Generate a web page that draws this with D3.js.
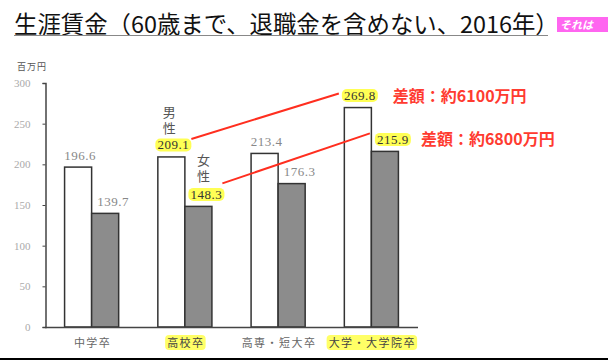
<!DOCTYPE html>
<html><head><meta charset="utf-8">
<script src="https://cdn.jsdelivr.net/npm/d3@7"></script>
<style>
body{margin:0;background:#fff;}
svg{display:block;}
</style></head>
<body>
<svg id="c" width="608" height="361"></svg>
<script>
const title = "生涯賃金（60歳まで、退職金を含めない、2016年）";
const unitLabel = "百万円";
const categories = ["中学卒","高校卒","高専・短大卒","大学・大学院卒"];
const highlighted = [false, true, false, true];
const male = [196.6, 209.1, 213.4, 269.8];
const female = [139.7, 148.3, 176.3, 215.9];
const seriesNames = ["男性","女性"];
const yTicks = [0,50,100,150,200,250,300];
const annotations = ["差額：約6100万円","差額：約6800万円"];

const svg = d3.select("#c");
const CJK = "'Noto Sans CJK JP','Noto Sans CJK SC',sans-serif";
const NUM = "'Liberation Serif',serif";

// title
svg.append("text").attr("x",14).attr("y",33).attr("font-family",CJK)
  .attr("font-size",23.4).attr("fill","#111").text(title);
svg.append("line").attr("x1",14).attr("x2",548).attr("y1",35.5).attr("y2",35.5)
  .attr("stroke","#888").attr("stroke-width",1);
// logo fragment
svg.append("rect").attr("x",557).attr("y",17).attr("width",51).attr("height",15).attr("fill","#ff66f0");
svg.append("text").attr("x",560).attr("y",29).attr("font-family",CJK).attr("font-size",11)
  .attr("font-weight","bold").attr("font-style","italic").attr("fill","#fff").text("それは");

// scales
const x = d3.scaleBand().domain(categories).range([45,418]).paddingInner(0.42).paddingOuter(0.21);
const y = d3.scaleLinear().domain([0,300]).range([327,83]);
const bw = x.bandwidth()/2;

// unit label
svg.append("text").attr("x",17).attr("y",70).attr("font-family",CJK).attr("font-size",9)
  .attr("fill","#555").attr("letter-spacing",1).text(unitLabel);

// y axis
const yAxis = svg.append("g").attr("transform","translate(45.5,0)")
  .call(d3.axisLeft(y).tickValues(yTicks).tickSize(3).tickPadding(12));
yAxis.select(".domain").attr("stroke","#444").attr("stroke-width",1.5);
yAxis.selectAll(".tick line").attr("stroke","#444");
yAxis.selectAll(".tick text").attr("font-family",NUM).attr("font-size",11).attr("fill","#aaa");

// bars
const g = svg.append("g");
categories.forEach((c,i)=>{
  g.append("rect").attr("x",x(c)).attr("y",y(male[i])).attr("width",bw).attr("height",y(0)-y(male[i]))
    .attr("fill","#fff").attr("stroke","#333").attr("stroke-width",1.5);
  g.append("rect").attr("x",x(c)+bw).attr("y",y(female[i])).attr("width",bw).attr("height",y(0)-y(female[i]))
    .attr("fill","#8c8c8c").attr("stroke","#333").attr("stroke-width",1.5);
});

// x axis
const xAxis = svg.append("g").attr("transform","translate(0,327.5)")
  .call(d3.axisBottom(x).tickSize(0).tickPadding(0).tickFormat(()=>""));
xAxis.select(".domain").attr("d","M45,0H418").attr("stroke","#444").attr("stroke-width",1.5);

// category labels
categories.forEach((c,i)=>{
  const cx = x(c)+x.bandwidth()/2;
  const t = svg.append("text").attr("x",cx+1).attr("y",347).attr("text-anchor","middle")
    .attr("font-family",CJK).attr("font-size",11).attr("letter-spacing",1.5)
    .attr("fill", highlighted[i] ? "#444" : "#666").text(c);
  if(highlighted[i]){
    const bb = t.node().getBBox();
    svg.append("rect").attr("x",bb.x-2).attr("y",bb.y+1).attr("width",bb.width+3)
      .attr("height",bb.height-1).attr("rx",4).attr("fill","#ffff66");
    t.raise();
  }
});

// value labels
function valueLabel(v, cx, hl){
  const cy = y(v) - 12;
  const t = svg.append("text").attr("x",cx).attr("y",cy+4.5).attr("text-anchor","middle")
    .attr("font-family",NUM).attr("font-size",13).attr("letter-spacing",0.5)
    .attr("fill", hl ? "#333" : "#888").text(v.toFixed(1));
  if(hl){
    svg.append("rect").attr("x",cx-18).attr("y",cy-6.5).attr("width",36).attr("height",13)
      .attr("rx",5).attr("fill","#ffff55");
    t.raise();
  }
  return {cx, cy};
}
const mPos = [], fPos = [];
categories.forEach((c,i)=>{
  mPos.push(valueLabel(male[i], x(c)+bw/2+2, highlighted[i]));
  fPos.push(valueLabel(female[i], x(c)+bw*1.5+8, highlighted[i]));
});

// series name labels (vertical)
function vertLabel(name, cx, topY){
  svg.append("text").attr("x",cx).attr("y",topY).attr("text-anchor","start")
    .attr("font-family",CJK).attr("font-size",13).attr("fill","#555")
    .attr("letter-spacing",3)
    .style("writing-mode","vertical-rl").text(name);
}
vertLabel(seriesNames[0], mPos[1].cx-4, mPos[1].cy-39);
vertLabel(seriesNames[1], fPos[1].cx-3, fPos[1].cy-41);

// red connector lines
const red = "#ff2e1f";
svg.append("line").attr("x1",mPos[1].cx+18).attr("y1",mPos[1].cy-6)
  .attr("x2",mPos[3].cx-21).attr("y2",mPos[3].cy-2).attr("stroke",red).attr("stroke-width",2);
svg.append("line").attr("x1",fPos[1].cx+16).attr("y1",fPos[1].cy-11)
  .attr("x2",fPos[3].cx-23).attr("y2",fPos[3].cy-6).attr("stroke",red).attr("stroke-width",2);

// annotations
svg.append("text").attr("x",mPos[3].cx+33).attr("y",mPos[3].cy+6).attr("font-family",CJK)
  .attr("font-size",16).attr("font-weight","bold").attr("fill","#ff3b30").text(annotations[0]);
svg.append("text").attr("x",fPos[3].cx+28).attr("y",fPos[3].cy+6).attr("font-family",CJK)
  .attr("font-size",16).attr("font-weight","bold").attr("fill","#ff3b30").text(annotations[1]);

// bottom rule
svg.append("line").attr("x1",0).attr("x2",608).attr("y1",359).attr("y2",359)
  .attr("stroke","#000").attr("stroke-width",2);
</script>
</body></html>
